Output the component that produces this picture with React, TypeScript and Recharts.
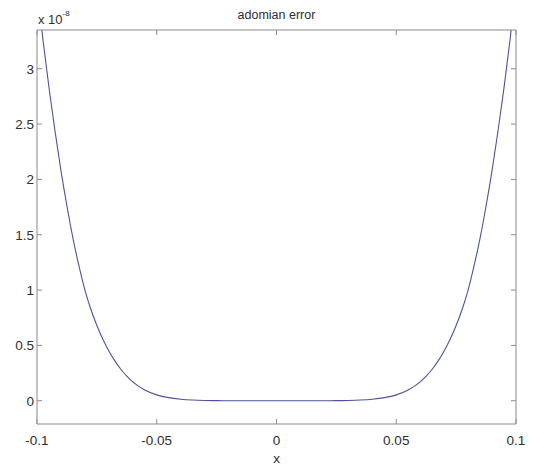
import React from 'react';
import { LineChart, Line, XAxis, YAxis } from 'recharts';

const xValues = [
  -0.1, -0.0975, -0.095, -0.0925, -0.09, -0.0875, -0.085, -0.0825, -0.08, -0.0775,
  -0.075, -0.0725, -0.07, -0.0675, -0.065, -0.0625, -0.06, -0.055, -0.05, -0.045,
  -0.04, -0.035, -0.03, -0.025, -0.02, -0.015, -0.01, -0.005, 0,
  0.005, 0.01, 0.015, 0.02, 0.025, 0.03, 0.035, 0.04, 0.045, 0.05, 0.055, 0.06,
  0.0625, 0.065, 0.0675, 0.07, 0.0725, 0.075, 0.0775, 0.08, 0.0825, 0.085, 0.0875,
  0.09, 0.0925, 0.095, 0.0975, 0.1,
];

// adomian error, in units of 1e-8
const errorValues = [
  3.75, 3.26, 2.83, 2.44, 2.08, 1.76, 1.47, 1.22, 1.0, 0.825,
  0.68, 0.555, 0.45, 0.36, 0.285, 0.222, 0.17, 0.097, 0.053, 0.028,
  0.014, 0.0065, 0.0027, 0.001, 0.0003, 0.0001, 0, 0, 0,
  0, 0, 0.0001, 0.0003, 0.001, 0.0027, 0.0065, 0.014, 0.028, 0.053, 0.097, 0.17,
  0.222, 0.285, 0.36, 0.45, 0.555, 0.68, 0.825, 1.0, 1.22, 1.47, 1.76,
  2.08, 2.44, 2.83, 3.26, 3.75,
];

const xTicks = [-0.1, -0.05, 0, 0.05, 0.1];
const yTicks = [0, 0.5, 1, 1.5, 2, 2.5, 3];
const yDomain = [-0.21, 3.35];
const xDomain = [-0.1, 0.1];

const titleText = 'adomian error';
const xLabel = 'x';
const multiplierBase = 'x 10';
const multiplierExp = '-8';

const data = xValues.map((x, i) => ({ x, err: errorValues[i] }));

const FONT = '"Liberation Sans", Arial, Helvetica, sans-serif';
const AXIS = '#8a8a8a';
const TEXT = '#2e2e2e';
const noTick = () => <g />;

export default function App() {
  return (
    <div style={{ position: 'absolute', left: 0, top: 0, width: 546, height: 465, background: '#fff' }}>
      <LineChart
        width={546}
        height={465}
        data={data}
        margin={{ top: 30, right: 30, bottom: 0, left: 0 }}
        style={{ fontFamily: FONT }}
      >
        <XAxis
          xAxisId="b"
          type="number"
          dataKey="x"
          domain={xDomain}
          ticks={xTicks}
          interval={0}
          height={41}
          tickSize={-5}
          tickMargin={16}
          stroke={AXIS}
          tick={{ fill: TEXT, fontSize: 13.5, fontFamily: FONT }}
          allowDataOverflow
          label={{ value: xLabel, position: 'insideBottom', offset: 2, fill: TEXT, fontSize: 13.5, fontFamily: FONT }}
        />
        <XAxis
          xAxisId="t"
          orientation="top"
          mirror
          type="number"
          dataKey="x"
          domain={xDomain}
          ticks={xTicks}
          interval={0}
          tickSize={5}
          stroke={AXIS}
          tick={noTick}
          allowDataOverflow
        />
        <YAxis
          yAxisId="l"
          type="number"
          domain={yDomain}
          ticks={yTicks}
          interval={0}
          width={37}
          tickSize={-5}
          tickMargin={8}
          stroke={AXIS}
          tick={{ fill: TEXT, fontSize: 13.5, fontFamily: FONT }}
          allowDataOverflow
        />
        <YAxis
          yAxisId="r"
          orientation="right"
          mirror
          type="number"
          domain={yDomain}
          ticks={yTicks}
          interval={0}
          tickSize={5}
          stroke={AXIS}
          tick={noTick}
          allowDataOverflow
        />
        <Line
          xAxisId="b"
          yAxisId="l"
          type="monotone"
          dataKey="err"
          stroke="#4e529c"
          strokeWidth={1.1}
          dot={false}
          isAnimationActive={false}
        />
        <text x={276.5} y={19} textAnchor="middle" fontSize={12.5} fill={TEXT} fontFamily={FONT}>
          {titleText}
        </text>
        <text x={38} y={24} fontSize={13} fill={TEXT} fontFamily={FONT}>
          {multiplierBase}
          <tspan dy={-8} fontSize={8}>{multiplierExp}</tspan>
        </text>
      </LineChart>
    </div>
  );
}
